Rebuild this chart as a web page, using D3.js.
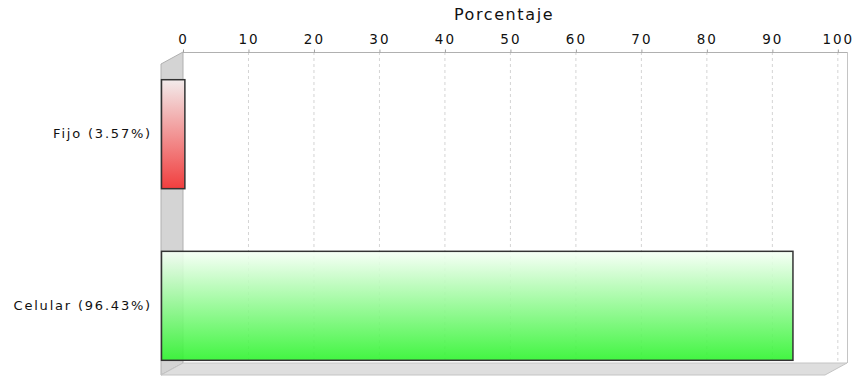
<!DOCTYPE html>
<html>
<head>
<meta charset="utf-8">
<script src="https://cdn.jsdelivr.net/npm/d3@7"></script>
<style>
  html, body { margin: 0; padding: 0; background: #fff; }
  svg text { font-family: "DejaVu Sans", sans-serif; fill: #111; }
</style>
</head>
<body>
<svg id="chart" width="854" height="376"></svg>
<script>
// Chart data
const categories = ["Fijo (3.57%)", "Celular (96.43%)"];
const values = [3.57, 96.43];
const tickValues = [0, 10, 20, 30, 40, 50, 60, 70, 80, 90, 100];
const axisTitle = "Porcentaje";
const barTopColors = ["#f6eeee", "#f6fff6"];
const barBottomColors = ["#f42e2e", "#2ef42e"];

const svg = d3.select("#chart");

// Back panel of the 3D plot and the depth offset of the front faces
const back = { left: 183, right: 847, top: 52, bottom: 363 };
const dx = 22, dy = 12;

const x = d3.scaleLinear().domain([0, 101.4]).range([back.left, back.right]);
const y = d3.scaleBand()
  .domain(categories)
  .range([back.top + dy, back.bottom + dy])
  .paddingInner(0.365)
  .paddingOuter(0.0886);

// Gradients for the bars
const defs = svg.append("defs");
categories.forEach((c, i) => {
  const g = defs.append("linearGradient")
    .attr("id", "grad" + i)
    .attr("x1", 0).attr("y1", 0).attr("x2", 0).attr("y2", 1);
  g.append("stop").attr("offset", "0%").attr("stop-color", barTopColors[i]);
  g.append("stop").attr("offset", "100%").attr("stop-color", barBottomColors[i]);
});

// Back wall
svg.append("rect")
  .attr("x", back.left).attr("y", back.top)
  .attr("width", back.right - back.left).attr("height", back.bottom - back.top)
  .attr("fill", "#fff");

// Dashed gridlines
svg.append("g").selectAll("line")
  .data(tickValues.filter(v => v > 0))
  .join("line")
  .attr("x1", d => x(d)).attr("x2", d => x(d))
  .attr("y1", back.top).attr("y2", back.bottom)
  .attr("stroke", "#d4d4d4").attr("stroke-width", 1)
  .attr("stroke-dasharray", "3,3");

// Right edge of the back wall
svg.append("line")
  .attr("x1", back.right + 0.5).attr("x2", back.right + 0.5)
  .attr("y1", back.top).attr("y2", back.bottom)
  .attr("stroke", "#c4c4c4");

// Left wall
svg.append("polygon")
  .attr("points", [
    [back.left - dx, back.top + dy],
    [back.left, back.top],
    [back.left, back.bottom],
    [back.left - dx, back.bottom + dy]
  ].map(p => p.join(",")).join(" "))
  .attr("fill", "#d4d4d4").attr("stroke", "#b0b0b0").attr("stroke-width", 1);

// Floor
svg.append("polygon")
  .attr("points", [
    [back.left - dx, back.bottom + dy],
    [back.left, back.bottom],
    [back.right, back.bottom],
    [back.right - dx, back.bottom + dy]
  ].map(p => p.join(",")).join(" "))
  .attr("fill", "#dedede").attr("stroke", "#c4c4c4").attr("stroke-width", 1);

// Top axis
const axis = d3.axisTop(x).tickValues(tickValues).tickSize(3).tickPadding(6).tickFormat(d3.format("d"));
const axisG = svg.append("g").attr("transform", `translate(0,${back.top + 0.5})`).call(axis);
axisG.select(".domain").attr("stroke", "#b0b0b0").attr("d", `M${back.left},0H${back.right}`);
axisG.selectAll(".tick line").attr("stroke", "#a0a0a0");
axisG.selectAll(".tick text")
  .attr("font-size", 13.5).attr("fill", "#111")
  .style("letter-spacing", "2px")
  .style("font-family", "DejaVu Sans, sans-serif");

svg.append("text")
  .attr("x", 504).attr("y", 20)
  .attr("text-anchor", "middle")
  .attr("font-size", 16)
  .style("letter-spacing", "1.6px")
  .text(axisTitle);

// Bars (front faces)
svg.append("g").selectAll("rect")
  .data(values)
  .join("rect")
  .attr("x", x(0) - dx + 0.5)
  .attr("y", (d, i) => y(categories[i]) + 0.5)
  .attr("width", d => x(d) - x(0))
  .attr("height", y.bandwidth())
  .attr("fill", (d, i) => `url(#grad${i})`)
  .attr("fill-opacity", 0.9)
  .attr("stroke", "#333").attr("stroke-width", 1.5);

// Category labels
svg.append("g").selectAll("text")
  .data(categories)
  .join("text")
  .attr("x", 152)
  .attr("y", d => y(d) + y.bandwidth() / 2)
  .attr("dy", "0.35em")
  .attr("text-anchor", "end")
  .attr("font-size", 13)
  .style("letter-spacing", "1.8px")
  .text(d => d);
</script>
</body>
</html>
